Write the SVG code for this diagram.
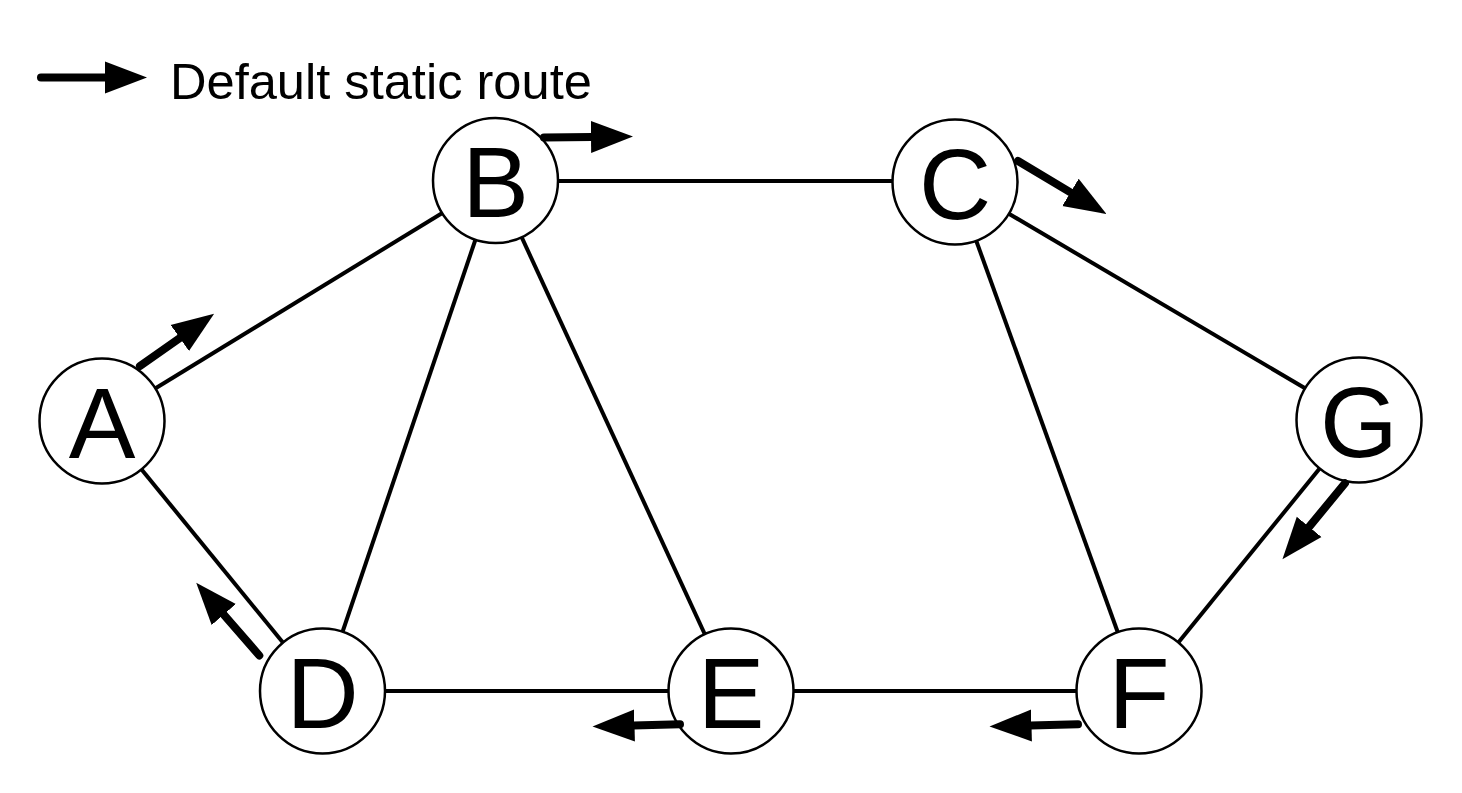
<svg xmlns="http://www.w3.org/2000/svg" width="1462" height="793" viewBox="0 0 1462 793">
<style>
.edge{stroke:#000;stroke-width:4;fill:none}
.node circle{fill:#fff;stroke:#000;stroke-width:2.5}
.node text{font-family:"Liberation Sans",Arial,Helvetica,sans-serif;font-size:100px;text-anchor:middle;fill:#000}
.route{stroke:#000;stroke-width:8;stroke-linecap:round;fill:none;marker-end:url(#head)}
.legend{font-family:"Liberation Sans",Arial,Helvetica,sans-serif;font-size:50.6px;fill:#000}
</style>
<defs>
<marker id="head" markerUnits="userSpaceOnUse" viewBox="0 -17 44 34" markerWidth="44" markerHeight="34" refX="1" refY="0" orient="auto">
<path d="M0,-16 L42,0 L0,16 Z" fill="#000"/>
</marker>
</defs>
<rect width="1462" height="793" fill="#fff"/>
<g id="legend">
<line class="route" x1="41" y1="77.5" x2="106" y2="77.5"/>
<text class="legend" x="170" y="99">Default static route</text>
</g>
<g id="connectors">
<line class="edge" x1="102" y1="421" x2="495.5" y2="180.5"/>
<line class="edge" x1="102" y1="421" x2="322.5" y2="691"/>
<line class="edge" x1="495.5" y1="180.5" x2="322.5" y2="691"/>
<line class="edge" x1="495.5" y1="180.5" x2="731" y2="691"/>
<line class="edge" x1="495.5" y1="181" x2="955" y2="181"/>
<line class="edge" x1="955" y1="182" x2="1359" y2="420"/>
<line class="edge" x1="955" y1="182" x2="1139" y2="691"/>
<line class="edge" x1="1359" y1="420" x2="1139" y2="691"/>
<line class="edge" x1="322.5" y1="691" x2="731" y2="691"/>
<line class="edge" x1="731" y1="691" x2="1139" y2="691"/>
</g>
<g id="node-A" class="node"><circle cx="102" cy="421" r="62.5"/><text x="102" y="457.5">A</text></g>
<g id="node-B" class="node"><circle cx="495.5" cy="180.5" r="62.5"/><text x="495.5" y="217">B</text></g>
<g id="node-C" class="node"><circle cx="955" cy="182" r="62.5"/><text x="955" y="218.5">C</text></g>
<g id="node-D" class="node"><circle cx="322.5" cy="691" r="62.5"/><text x="322.5" y="727.5">D</text></g>
<g id="node-E" class="node"><circle cx="731" cy="691" r="62.5"/><text x="731" y="727.5">E</text></g>
<g id="node-F" class="node"><circle cx="1139" cy="691" r="62.5"/><text x="1139" y="727.5">F</text></g>
<g id="node-G" class="node"><circle cx="1359" cy="420" r="62.5"/><text x="1359" y="456.5">G</text></g>
<g id="routes">
<line class="route" x1="544" y1="137.5" x2="592" y2="137"/>
<line class="route" x1="1018" y1="161" x2="1071.3" y2="192.9"/>
<line class="route" x1="140" y1="366" x2="180.6" y2="337.4"/>
<line class="route" x1="259.3" y1="655.5" x2="223.1" y2="613.8"/>
<line class="route" x1="680" y1="724.3" x2="633.5" y2="725.5"/>
<line class="route" x1="1078" y1="724.3" x2="1030.5" y2="725.5"/>
<line class="route" x1="1345" y1="483.3" x2="1308.5" y2="527.6"/>
</g>
</svg>
